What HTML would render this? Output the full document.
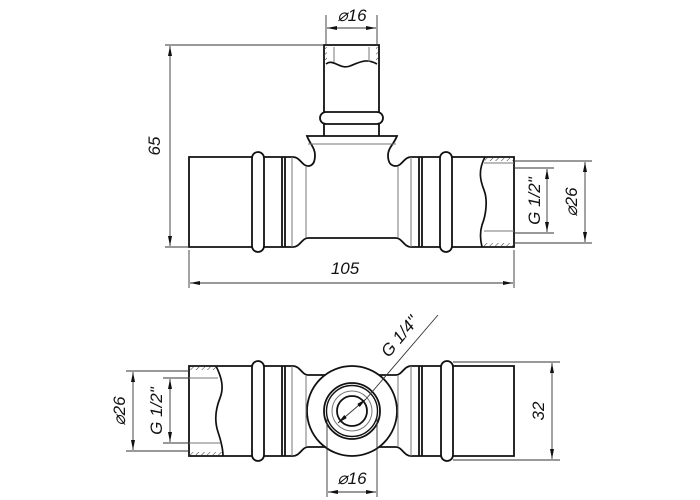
<!DOCTYPE html>
<html><head><meta charset="utf-8"><style>
html,body{margin:0;padding:0;background:#fff}
svg{display:block}
text{font-family:"Liberation Sans Narrow","Liberation Sans",sans-serif;font-style:italic;font-size:17px;fill:#111}
</style></head><body>
<svg width="700" height="500" viewBox="0 0 700 500" xmlns="http://www.w3.org/2000/svg">
<defs>
<marker id="a" viewBox="0 0 10 4" refX="10" refY="2" markerWidth="10" markerHeight="4" orient="auto-start-reverse" markerUnits="userSpaceOnUse"><path d="M0,0L10,2L0,4z" fill="#111"/></marker>
<pattern id="h" width="4" height="4" patternUnits="userSpaceOnUse" patternTransform="rotate(45)"><line x1="0" y1="0" x2="0" y2="4" stroke="#333" stroke-width="1"/></pattern>
</defs>
<g fill="none" stroke="#111" stroke-width="1.8">
<path d="M252,157H189V247H252"/>
<rect x="252" y="152" width="12" height="100" rx="6"/>
<path d="M264,157H293C300,157 302,166 308,166C313,166 315,162 315,155C315,148 310,144 307,136H397C394,144 388,148 388,155C388,162 390,166 396,166C402,166 404,157 411,157H440"/>
<path d="M264,247H293C300,247 302,238 308,238H396C402,238 404,247 411,247H440"/>
<line x1="282" y1="157" x2="282" y2="247"/>
<line x1="285" y1="157" x2="285" y2="247"/>
<line x1="419" y1="157" x2="419" y2="247"/>
<line x1="422" y1="157" x2="422" y2="247"/>
<rect x="440" y="152" width="12" height="100" rx="6"/>
<path d="M452,157H514V247H452"/>
<path d="M485,157C478,170 480,180 484,190C488,200 486,215 482,225C479,235 481,243 482,247" stroke-width="1.7"/>
<path d="M324,136V124M379,136V124"/>
<rect x="320" y="112" width="63" height="12" rx="6"/>
<path d="M324,112V45H379V112"/>
<path d="M326,64C333,58 340,70 350,66C360,62 366,58 377,64" stroke-width="1.7"/>
</g>
<g fill="none" stroke="#777" stroke-width="1">
<line x1="306" y1="166" x2="306" y2="238"/>
<line x1="398" y1="166" x2="398" y2="238"/>
<line x1="292" y1="157" x2="292" y2="247"/>
<line x1="411" y1="157" x2="411" y2="247"/>
<line x1="308" y1="144" x2="396" y2="144"/>
<line x1="334" y1="47" x2="334" y2="62"/><line x1="369" y1="47" x2="369" y2="62"/>
<line x1="484" y1="163" x2="514" y2="163"/><line x1="484" y1="231" x2="514" y2="231"/>
</g>
<rect x="485" y="157" width="29" height="4" fill="url(#h)"/>
<rect x="482" y="243" width="32" height="4" fill="url(#h)"/>
<rect x="324" y="47" width="3" height="16" fill="url(#h)"/>
<rect x="376" y="47" width="3" height="16" fill="url(#h)"/>
<g stroke="#333" stroke-width="0.9" fill="none">
<line x1="165" y1="45" x2="324" y2="45"/>
<line x1="165" y1="247" x2="189" y2="247"/>
<line x1="170" y1="46" x2="170" y2="246" marker-start="url(#a)" marker-end="url(#a)"/>
<line x1="189" y1="250" x2="189" y2="288"/>
<line x1="514" y1="250" x2="514" y2="288"/>
<line x1="190" y1="283" x2="513" y2="283" marker-start="url(#a)" marker-end="url(#a)"/>
<line x1="326" y1="15" x2="326" y2="45"/><line x1="377" y1="15" x2="377" y2="45"/>
<line x1="327" y1="28" x2="376" y2="28" marker-start="url(#a)" marker-end="url(#a)"/>
<line x1="514" y1="161" x2="592" y2="161"/><line x1="514" y1="243" x2="592" y2="243"/>
<line x1="585" y1="162" x2="585" y2="242" marker-start="url(#a)" marker-end="url(#a)"/>
<line x1="514" y1="168" x2="554" y2="168"/><line x1="514" y1="233" x2="554" y2="233"/>
<line x1="547" y1="169" x2="547" y2="232" marker-start="url(#a)" marker-end="url(#a)"/>
</g>
<text x="345" y="274" text-anchor="middle">105</text>
<text x="352" y="21" text-anchor="middle">⌀16</text>
<text transform="translate(160,146) rotate(-90)" text-anchor="middle">65</text>
<text transform="translate(577,202) rotate(-90)" text-anchor="middle">⌀26</text>
<text transform="translate(540,201) rotate(-90)" text-anchor="middle">G 1/2"</text>

<g fill="none" stroke="#111" stroke-width="1.8">
<path d="M252,366H189V456H252"/>
<rect x="252" y="361" width="12" height="100" rx="6"/>
<path d="M264,366H293C300,366 302,375 308,375H396C402,375 404,366 411,366H441"/>
<path d="M264,456H293C300,456 302,447 308,447H396C402,447 404,456 411,456H441"/>
<line x1="282" y1="366" x2="282" y2="456"/><line x1="285" y1="366" x2="285" y2="456"/>
<line x1="419" y1="366" x2="419" y2="456"/><line x1="422" y1="366" x2="422" y2="456"/>
<rect x="441" y="361" width="12" height="100" rx="6"/>
<path d="M453,366H514V456H453"/>
<path d="M216,366C222,378 224,388 220,398C216,408 214,420 218,432C222,444 223,452 223,456" stroke-width="1.7"/>
<circle cx="352" cy="411" r="45" fill="#fff"/>
<circle cx="352" cy="411" r="28"/>
<circle cx="352" cy="411" r="25.5" stroke-width="1.4"/>
<circle cx="352" cy="411" r="15"/>
</g>
<circle cx="352" cy="411" r="20" fill="none" stroke="#777" stroke-width="1"/>
<g fill="none" stroke="#777" stroke-width="1">
<line x1="292" y1="366" x2="292" y2="456"/><line x1="306" y1="375" x2="306" y2="447"/>
<line x1="411" y1="366" x2="411" y2="456"/><line x1="398" y1="375" x2="398" y2="447"/>
<line x1="189" y1="378" x2="218" y2="378"/><line x1="189" y1="443" x2="220" y2="443"/>
</g>
<rect x="189" y="366" width="28" height="4" fill="url(#h)"/>
<rect x="189" y="452" width="34" height="4" fill="url(#h)"/>
<g stroke="#333" stroke-width="0.9" fill="none">
<line x1="338" y1="423" x2="366" y2="399" marker-start="url(#a)" marker-end="url(#a)"/>
<line x1="366" y1="399" x2="438" y2="315"/>
<line x1="327" y1="418" x2="327" y2="497"/><line x1="377" y1="418" x2="377" y2="497"/>
<line x1="328" y1="492" x2="376" y2="492" marker-start="url(#a)" marker-end="url(#a)"/>
<line x1="126" y1="371" x2="189" y2="371"/><line x1="126" y1="451" x2="189" y2="451"/>
<line x1="133" y1="372" x2="133" y2="450" marker-start="url(#a)" marker-end="url(#a)"/>
<line x1="163" y1="378" x2="189" y2="378"/><line x1="163" y1="443" x2="189" y2="443"/>
<line x1="170" y1="379" x2="170" y2="442" marker-start="url(#a)" marker-end="url(#a)"/>
<line x1="453" y1="362" x2="560" y2="362"/><line x1="453" y1="460" x2="560" y2="460"/>
<line x1="552" y1="363" x2="552" y2="459" marker-start="url(#a)" marker-end="url(#a)"/>
</g>
<text x="352" y="484" text-anchor="middle">⌀16</text>
<text transform="translate(125,411) rotate(-90)" text-anchor="middle">⌀26</text>
<text transform="translate(162,411) rotate(-90)" text-anchor="middle">G 1/2"</text>
<text transform="translate(544,411) rotate(-90)" text-anchor="middle">32</text>
<text transform="translate(404,340) rotate(-50)" text-anchor="middle">G 1/4"</text>
</svg>
</body></html>
